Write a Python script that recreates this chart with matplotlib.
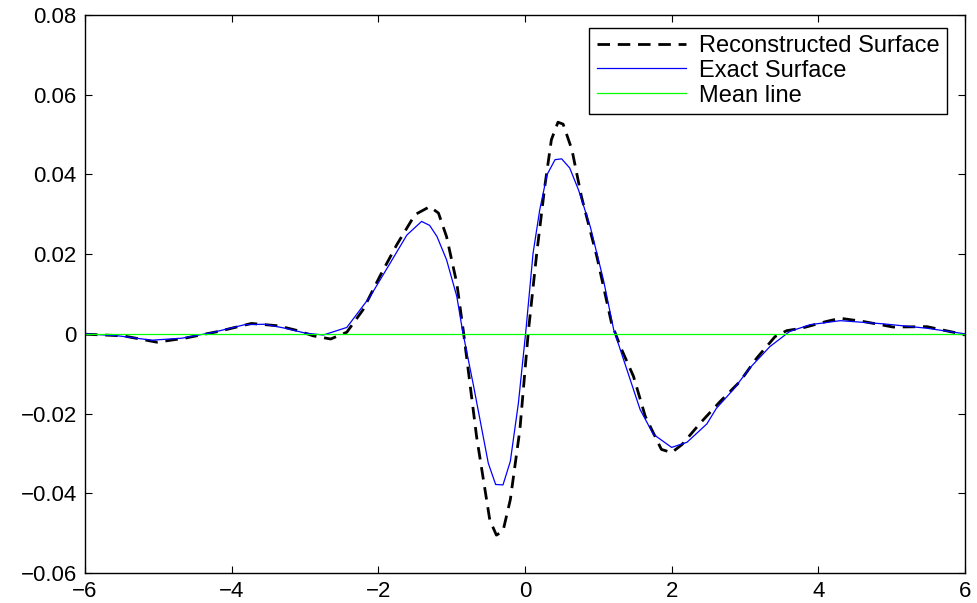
import numpy as np
import matplotlib
matplotlib.use("Agg")
import matplotlib.pyplot as plt

# exact surface (blue)
exact_x = [-6.0, -5.55, -5.09, -4.68, -4.27, -3.82, -3.55, -3.27, -3.0, -2.75, -2.43, -2.11,
           -1.84, -1.61, -1.41, -1.30, -1.20, -1.07, -0.93, -0.85, -0.70, -0.50, -0.40, -0.30,
           -0.20, -0.09, 0.01, 0.11, 0.20, 0.30, 0.41, 0.50, 0.61, 0.73, 0.89, 1.07, 1.21,
           1.39, 1.57, 1.75, 2.0, 2.21, 2.48, 2.61, 2.84, 3.07, 3.34, 3.61, 3.89, 4.30, 4.89,
           5.48, 6.0]
exact_y = [0.0, -0.0005, -0.0016, -0.0011, 0.0003, 0.0023, 0.0024, 0.0014, 0.0002, -0.0003,
           0.0016, 0.0094, 0.0177, 0.0248, 0.0282, 0.0272, 0.0244, 0.0186, 0.0094, 0.0006,
           -0.0132, -0.0325, -0.0378, -0.0379, -0.032, -0.0174, 0.0004, 0.0202, 0.031, 0.0399,
           0.0437, 0.0439, 0.0416, 0.0361, 0.0269, 0.0135, 0.001, -0.009, -0.019, -0.0252,
           -0.0285, -0.0272, -0.0226, -0.0187, -0.014, -0.0085, -0.0032, 0.0006, 0.0023,
           0.0033, 0.0025, 0.0014, 0.0]

# reconstructed surface (black dashed)
recon_x = [-6.0, -5.48, -5.02, -4.64, -4.18, -3.73, -3.36, -3.1, -2.89, -2.65, -2.43, -2.21,
           -1.98, -1.75, -1.50, -1.30, -1.18, -1.07, -0.93, -0.84, -0.66, -0.48, -0.39, -0.30,
           -0.20, -0.07, 0.045, 0.16, 0.27, 0.36, 0.45, 0.52, 0.64, 0.77, 0.98, 1.18, 1.30,
           1.48, 1.64, 1.86, 2.0, 2.14, 2.39, 2.66, 2.93, 3.16, 3.41, 3.57, 3.77, 4.11, 4.30,
           4.61, 5.02, 5.48, 5.89, 6.0]
recon_y = [-0.0001, -0.0005, -0.0021, -0.0011, 0.0006, 0.0026, 0.002, 0.0008, -0.0005, -0.0013,
           0.0004, 0.006, 0.0144, 0.0223, 0.0299, 0.0319, 0.0303, 0.0244, 0.0127, 0.0006,
           -0.0258, -0.0467, -0.0505, -0.0495, -0.0416, -0.0241, 0.0004, 0.0202, 0.037, 0.0487,
           0.0531, 0.0526, 0.0462, 0.0344, 0.0194, 0.0027, -0.0032, -0.0107, -0.0207, -0.029,
           -0.0298, -0.0278, -0.0224, -0.017, -0.012, -0.0061, -0.0007, 0.0008, 0.0014, 0.0031,
           0.0039, 0.0031, 0.0017, 0.0018, 0.0002, -0.0003]

mean_x = [-6.0, 6.0]
mean_y = [0.0, 0.0]

xticks = [-6, -4, -2, 0, 2, 4, 6]
xlabels = ["\u22126", "\u22124", "\u22122", "0", "2", "4", "6"]
yticks = [-0.06, -0.04, -0.02, 0, 0.02, 0.04, 0.06, 0.08]
ylabels = ["\u22120.06", "\u22120.04", "\u22120.02", "0", "0.02", "0.04", "0.06", "0.08"]

plt.rcParams['font.family'] = ['Liberation Sans', 'DejaVu Sans']

fig = plt.figure(figsize=(9.77, 6.03), dpi=100)
ax = fig.add_axes([0.087, 0.0498, 0.9007, 0.9254])

ax.plot(recon_x, recon_y, color='black', lw=2, dashes=(4.5, 2.8), label='Reconstructed Surface')
ax.plot(exact_x, exact_y, color='#0000ff', lw=0.9, label='Exact Surface')
ax.plot(mean_x, mean_y, color='#00ff00', lw=0.9, label='Mean line')

ax.set_xlim(-6, 6)
ax.set_ylim(-0.06, 0.08)
ax.set_xticks(xticks)
ax.set_xticklabels(xlabels)
ax.set_yticks(yticks)
ax.set_yticklabels(ylabels)
ax.tick_params(direction='in', length=5, width=0.8, top=True, right=True,
               labelsize=16, pad=6)
for s in ax.spines.values():
    s.set_linewidth(1.0)

leg = ax.legend(loc='upper right', bbox_to_anchor=(0.9795, 0.977), borderaxespad=0,
                fontsize=17, handlelength=3.8, fancybox=False,
                framealpha=1, edgecolor='black', borderpad=0.3,
                labelspacing=0.12, handletextpad=0.55)
leg.get_frame().set_linewidth(1.0)

plt.savefig('out.png', dpi=100)
